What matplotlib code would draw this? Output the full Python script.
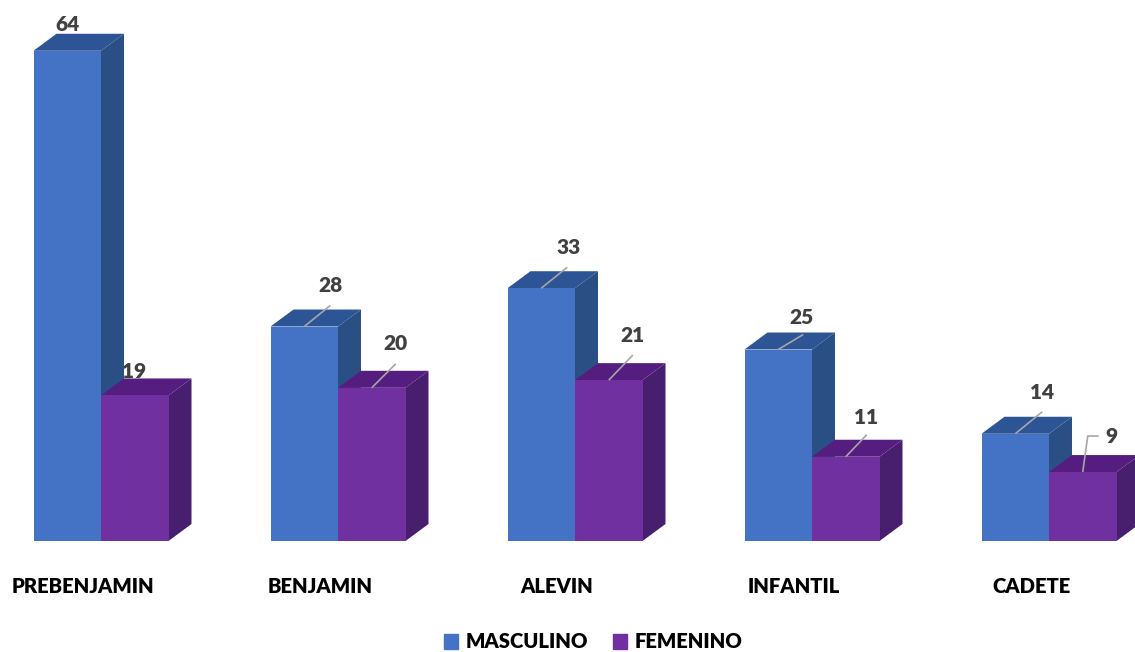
import numpy as np
import matplotlib
matplotlib.use("Agg")
import matplotlib.pyplot as plt
from matplotlib.patches import Polygon, Patch

plt.rcParams['font.family'] = ['Lato', 'DejaVu Sans']
plt.rcParams['font.weight'] = 'heavy'

# =========================
# DATA
# =========================
categorias = ["PREBENJAMIN", "BENJAMIN", "ALEVIN", "INFANTIL", "CADETE"]
masculino = [64, 28, 33, 25, 14]
femenino = [19, 20, 21, 11, 9]

# label offsets from the centre of each bar's top edge, pixels
off_masc = [(0, 26), (26, 41), (27, 41), (23, 32), (27, 41)]
off_fem = [(-1, 24), (24, 44), (24, 45), (20, 39), (29, 36)]
# leader line points, pixels, same origin (empty = no leader)
lead_masc = [[], [(26, 21)], [(26, 21)], [(25, 15)], [(27, 22)]]
lead_fem = [[], [(24, 24)], [(24, 25)], [(21, 22)], [(5, 36), (16, 36)]]

# =========================
# LAYOUT (pixels of the 1135x652 picture)
# =========================
W, H = 1135, 652
PX_BASE = 541
PX_UNIT = 7.66
PX_STEP = 237
PX_FIRST = 101

fig = plt.figure(figsize=(W / 100, H / 100), dpi=100)
ax = fig.add_axes([0, (H - PX_BASE) / H, 1, PX_BASE / H])
ax.set_xlim(-PX_FIRST / PX_STEP, (W - PX_FIRST) / PX_STEP)
ax.set_ylim(0, PX_BASE / PX_UNIT)

x = np.arange(len(categorias))
w = 67.5 / PX_STEP
dx = 23 / PX_STEP
dy = 17 / PX_UNIT


def barra3d(left, h, front, side, top, z):
    ax.add_patch(Polygon([(left + w, 0), (left + w + dx, dy), (left + w + dx, h + dy), (left + w, h)],
                         fc=side, ec='none', zorder=z, clip_on=False))
    ax.add_patch(Polygon([(left, h), (left + dx, h + dy), (left + w + dx, h + dy), (left + w, h)],
                         fc=top, ec='none', zorder=z, clip_on=False))
    ax.bar(left, h, w, align='edge', color=front, zorder=z)


def etiqueta(cx, h, valor, off, lead):
    ax.annotate(str(valor), (cx, h), xytext=off, textcoords='offset pixels',
                ha='center', va='center', fontsize=15, color='#404040', zorder=30)
    xs = [cx] + [cx + p[0] / PX_STEP for p in lead]
    ys = [h] + [h + p[1] / PX_UNIT for p in lead]
    if lead:
        ax.plot(xs, ys, color='#A6A6A6', lw=1.2, zorder=29, solid_capstyle='butt')


for i in x:
    barra3d(i - w, masculino[i], '#4472C4', '#2A4F85', '#2D5596', 2 + 2 * i)
    barra3d(i, femenino[i], '#7030A0', '#481E6E', '#551D80', 3 + 2 * i)

for i in x:
    etiqueta(i - w / 2, masculino[i], masculino[i], off_masc[i], lead_masc[i])
    etiqueta(i + w / 2, femenino[i], femenino[i], off_fem[i], lead_fem[i])

# =========================
# AXES / LEGEND
# =========================
ax.set_xticks(x - 18 / PX_STEP, categorias)
ax.tick_params(axis='x', length=0, pad=26, labelsize=14.6, labelcolor='black')
ax.set_yticks([])
for s in ax.spines.values():
    s.set_visible(False)

handles = [Patch(color='#4472C4', label='MASCULINO'), Patch(color='#7030A0', label='FEMENINO')]
fig.legend(handles=handles, loc='center', bbox_to_anchor=(593 / W, 1 - 642 / H), ncol=2, frameon=False,
           fontsize=14.6, handlelength=0.7, handleheight=0.7, handletextpad=0.35, columnspacing=1.25,
           labelcolor='black', borderpad=0)

fig.savefig("out.png", dpi=100)
